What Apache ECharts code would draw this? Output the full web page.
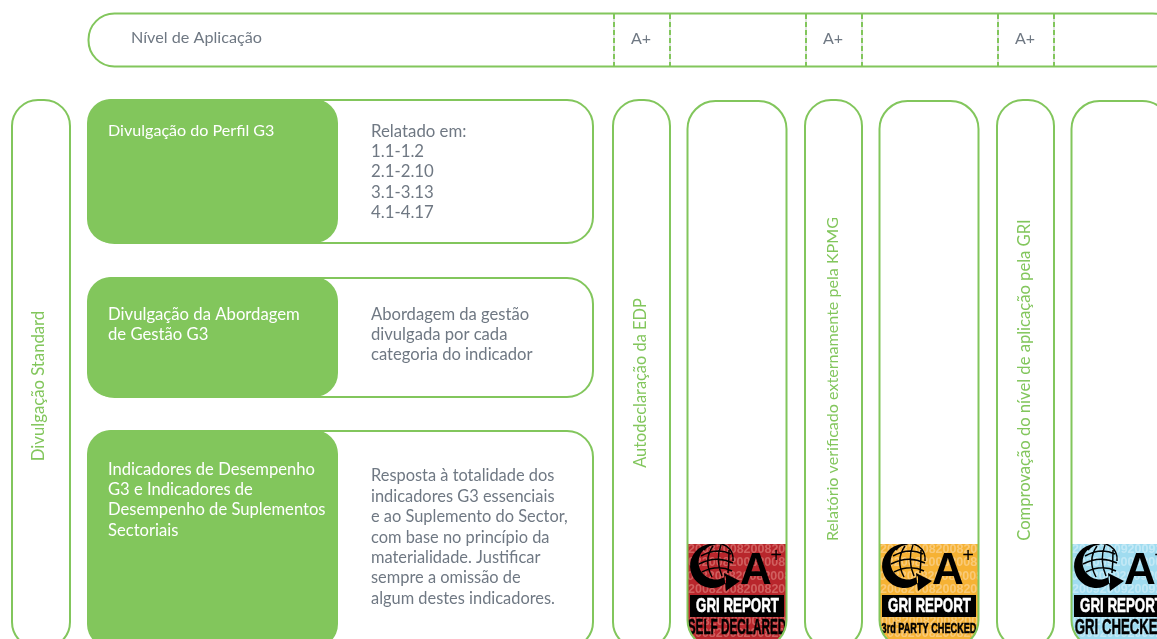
<!DOCTYPE html>
<html>
<head>
<meta charset="utf-8">
<style>html,body{margin:0;padding:0;background:#fff;overflow:hidden}#c{width:1157px;height:639px}</style>
<script src="https://cdn.jsdelivr.net/npm/echarts@6/dist/echarts.min.js"></script>
</head>
<body>
<div id="c"></div>
<script>
// ---- content ----
const levelTitle = 'Nível de Aplicação';
const levelGrades = ['A+', 'A+', 'A+'];
const sideLabel = 'Divulgação Standard';
const rowTitles = [
  'Divulgação do Perfil G3',
  'Divulgação da Abordagem\nde Gestão G3',
  'Indicadores de Desempenho\nG3 e Indicadores de\nDesempenho de Suplementos\nSectoriais'
];
const rowDetails = [
  'Relatado em:\n1.1-1.2\n2.1-2.10\n3.1-3.13\n4.1-4.17',
  'Abordagem da gestão\ndivulgada por cada\ncategoria do indicador',
  'Resposta à totalidade dos\nindicadores G3 essenciais\ne ao Suplemento do Sector,\ncom base no princípio da\nmaterialidade. Justificar\nsempre a omissão de\nalgum destes indicadores.'
];
const columnLabels = [
  'Autodeclaração da EDP',
  'Relatório verificado externamente pela KPMG',
  'Comprovação do nível de aplicação pela GRI'
];
const badgeCaptions = ['SELF DECLARED', '3rd PARTY CHECKED', 'GRI CHECKED'];
const badgeYears = ['2008', '2008', '2009'];
const badgeHeading = 'GRI REPORT';
const badgeGrade = 'A';
const badgePlus = '+';

// ---- layout and style ----
const GREEN = '#82c65c', GREY = '#6f7883';
const FONT = 'Lato, "Open Sans", sans-serif', BADGE_FONT = '"Liberation Sans", Arial, sans-serif';
const BOTTOM = 648;
const colX = [613, 805, 997], badgeX = [688, 880, 1072], BADGE_W = 98, BADGE_TOP = 544;
const colTextY = [383, 379, 380], colTextSize = [16.4, 16.1, 16.6];
const rowY = [[100, 243], [278, 397], [431, BOTTOM]];
const titleY = [121, 304, 459], detailY = [121, 304, 466];
const titleSize = [16.1, 16.7, 16.6], detailSize = [16.8, 16.6, 16.4];
const badgeFill = ['#b8262c', '#f6b234', '#a0dcf0'];
const badgeMark = ['#d0605f', '#f9ca78', '#c3e9f6'];
const captionStyle = [
  { size: 22, sx: 0.534, y: 84 },
  { size: 15, sx: 0.61, y: 85 },
  { size: 22, sx: 0.60, y: 84 }
];
const markRows = [[0, 6], [-14, 19], [-8, 33], [0, 46], [-6, 78], [0, 90]];

const G = echarts.graphic;
const maskR = 27, maskH = BOTTOM - BADGE_TOP, maskW = BADGE_W;
G.registerShape('globeLines', G.extendPath('M16 6A16 16 0 0 1 45 17 M13 12Q29 3 43 10 M11 20Q28 11 45 19 M14 28Q30 20 44 27 M25 2Q15 16 24 33 M33 1Q27 16 34 32 M41 6Q41 18 40 29', {}));
G.registerShape('gMark', G.extendPath('M27 0.2A22 22 0 1 0 38 39L38 32A17.2 17.2 0 1 1 28 1Z M36 29L52 37L38 47Z', {}));
G.registerShape('badgeMask', G.extendPath(
  `M-16 -8L${maskW + 16} -8L${maskW + 16} ${maskH + 4}L-16 ${maskH + 4}Z` +
  `M0 0L0 ${maskH - maskR}A${maskR} ${maskR} 0 0 0 ${maskR} ${maskH}L${maskW - maskR} ${maskH}A${maskR} ${maskR} 0 0 0 ${maskW} ${maskH - maskR}L${maskW} 0Z`, {}));

const els = [];
const green = (x, y, w, h, r) => ({ type: 'rect', shape: { x, y, width: w, height: h, r }, style: { fill: '#fff', stroke: GREEN, lineWidth: 2 } });
const label = (text, x, y, o) => ({
  type: 'text', x, y, rotation: o.rot || 0, scaleX: o.sx || 1,
  style: { text, fill: o.fill || GREY, font: (o.weight || 'normal') + ' ' + o.size + 'px ' + (o.font || FONT),
    align: o.align || 'left', verticalAlign: o.va || 'top', lineHeight: o.lh,
    stroke: o.bold ? o.fill : undefined, lineWidth: o.bold || 0 }
});

// badges (painted first, then masked to the rounded column shape)
badgeX.forEach((x0, i) => {
  const w = BADGE_W, t = BADGE_TOP;
  els.push({ type: 'rect', shape: { x: x0, y: t, width: w, height: BOTTOM - t }, style: { fill: badgeFill[i] } });
  markRows.forEach(m => els.push(label(badgeYears[i].repeat(4), x0 + m[0], t + m[1],
    { size: 12.5, weight: 'bold', font: BADGE_FONT, fill: badgeMark[i], va: 'middle' })));
  els.push({ type: 'rect', shape: { x: x0 + 2, y: t + 51, width: w - 4, height: 22 }, style: { fill: '#000' } });
  els.push(label(badgeHeading, x0 + w / 2 + 0.5, t + 62.5, { size: 21, weight: 'bold', font: BADGE_FONT, fill: '#fff', align: 'center', va: 'middle', sx: 0.635, bold: 0.6 }));
  const c = captionStyle[i];
  els.push(label(badgeCaptions[i], x0 + w / 2, t + c.y, { size: c.size, weight: 'bold', font: BADGE_FONT, fill: '#000', align: 'center', va: 'middle', sx: c.sx, bold: 0.5 }));
  // globe mark
  els.push({ type: 'globeLines', x: x0, y: t, style: { fill: 'none', stroke: '#000', lineWidth: 1.5 } });
  els.push({ type: 'gMark', x: x0, y: t, style: { fill: '#000' } });
  els.push(label(badgeGrade, x0 + 68, t + 50, { size: 44, weight: 'bold', font: BADGE_FONT, fill: '#000', align: 'center', va: 'bottom' }));
  els.push(label(badgePlus, x0 + 88, t + 12, { size: 20, font: BADGE_FONT, fill: '#000', align: 'center', va: 'middle' }));
  // white surround that leaves only the rounded badge visible
  els.push({ type: 'badgeMask', x: x0, y: t, style: { fill: '#fff' } });
  els.push({ type: 'rect', shape: { x: x0 - 0.5, y: 101, width: w + 1, height: BOTTOM - 101, r: 28 }, style: { fill: 'none', stroke: GREEN, lineWidth: 2 } });
});

// top level bar
els.push(green(88.5, 13.5, 1090, 53, 26));
els.push(label(levelTitle, 131, 38, { size: 16.2, va: 'middle' }));
colX.forEach((x, i) => {
  [x + 1, x + 57].forEach(lx => {
    els.push({ type: 'line', shape: { x1: lx, y1: 14, x2: lx, y2: 66 }, style: { stroke: '#a9b3a9', lineWidth: 0.7 } });
    els.push({ type: 'line', shape: { x1: lx, y1: 14, x2: lx, y2: 66 }, style: { stroke: GREEN, lineWidth: 2, lineDash: [5, 3] } });
  });
  els.push(label(levelGrades[i], x + 28, 38.5, { size: 16, align: 'center', va: 'middle' }));
  els.push(green(x, 100, 57, BOTTOM - 100, 26));
  els[els.length - 1].style.fill = 'none';
  els.push(label(columnLabels[i], x + 27.3, colTextY[i], { size: colTextSize[i], fill: GREEN, align: 'center', va: 'middle', rot: Math.PI / 2 }));
});

// side column
els.push(green(12, 100, 58, BOTTOM - 100, 26));
els.push(label(sideLabel, 39, 386, { size: 16.7, fill: GREEN, align: 'center', va: 'middle', rot: Math.PI / 2 }));

// rows
rowY.forEach((r, i) => {
  els.push(green(88.5, r[0], 504.5, r[1] - r[0], 26));
  els.push({ type: 'rect', shape: { x: 87, y: r[0] - 1, width: 251, height: r[1] - r[0] + 1, r: 24 }, style: { fill: GREEN } });
  els.push(label(rowTitles[i], 108, titleY[i], { size: titleSize[i], fill: '#fff', lh: 20.4 }));
  els.push(label(rowDetails[i], 371, detailY[i], { size: detailSize[i], lh: 20.4 }));
});

const chart = echarts.init(document.getElementById('c'), null, { renderer: 'canvas' });
chart.setOption({ backgroundColor: '#fff', animation: false, graphic: { elements: els } });
</script>
</body>
</html>
